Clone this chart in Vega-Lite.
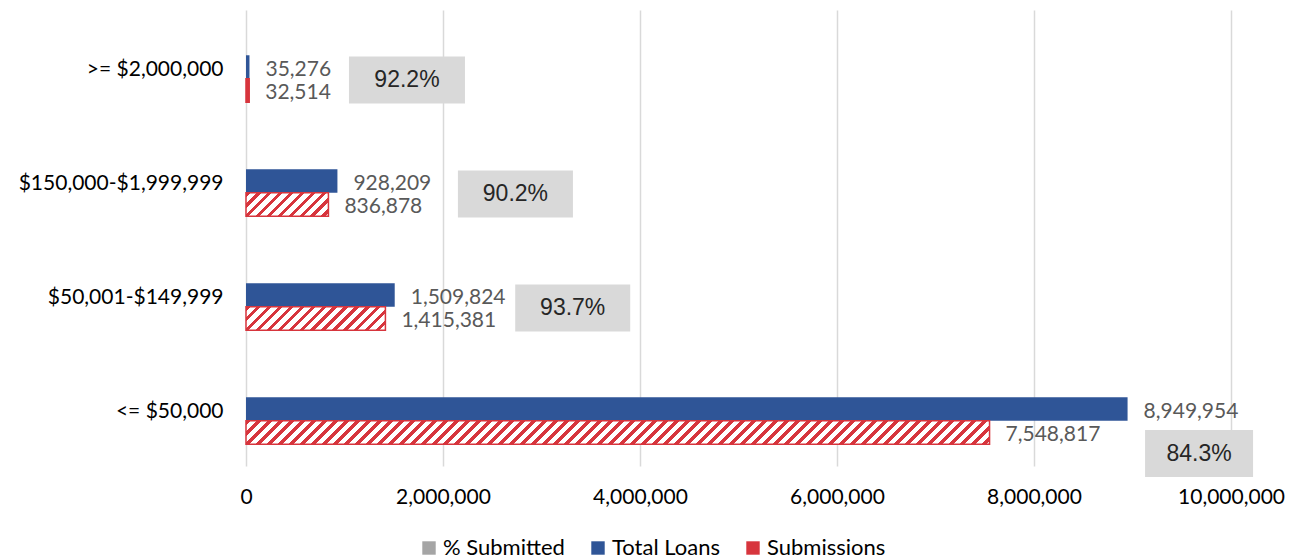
{
  "$schema": "https://vega.github.io/schema/vega-lite/v6.json",
  "width": 985,
  "height": 456,
  "autosize": {"type": "none"},
  "padding": {"left": 246, "top": 10, "right": 58, "bottom": 94},
  "background": "white",
  "config": {
    "view": {"stroke": null},
    "font": "Lato",
    "axisX": {"domain": false, "ticks": false, "labelFont": "Lato", "labelFontSize": 21, "labelColor": "#000000", "labelPadding": 20, "gridColor": "#d9d9d9", "gridWidth": 1.5, "labelFlush": false, "labelOverlap": false},
    "axisY": {"domain": false, "ticks": false, "grid": false, "labelFont": "Lato", "labelFontSize": 21, "labelColor": "#000000", "labelPadding": 23, "labelLimit": 400, "labelOffset": 2.5}
  },
  "data": {
    "values": [
      {"category": ">= $2,000,000", "Total Loans": 35276, "Submissions": 32514, "pct": 0.922},
      {"category": "$150,000-$1,999,999", "Total Loans": 928209, "Submissions": 836878, "pct": 0.902},
      {"category": "$50,001-$149,999", "Total Loans": 1509824, "Submissions": 1415381, "pct": 0.937},
      {"category": "<= $50,000", "Total Loans": 8949954, "Submissions": 7548817, "pct": 0.843}
    ]
  },
  "layer": [
    {
      "transform": [{"fold": ["Total Loans", "Submissions"], "as": ["series", "value"]}],
      "mark": {"type": "bar", "strokeWidth": 1.5},
      "encoding": {
        "y": {"field": "category", "type": "nominal", "title": null, "sort": [">= $2,000,000", "$150,000-$1,999,999", "$50,001-$149,999", "<= $50,000"], "scale": {"paddingInner": 0.382, "paddingOuter": 0.191}},
        "yOffset": {"field": "series", "type": "nominal", "scale": {"domain": ["% Submitted", "Total Loans", "Submissions"], "paddingInner": 0, "paddingOuter": 0}},
        "x": {"field": "value", "type": "quantitative", "title": null, "scale": {"domain": [0, 10000000], "nice": false}, "axis": {"values": [0, 2000000, 4000000, 6000000, 8000000, 10000000], "format": ",d"}},
        "fill": {
          "field": "series", "type": "nominal",
          "scale": {"domain": ["% Submitted", "Total Loans", "Submissions"], "range": ["#a5a5a5", "#2f5597", "#d7353d"]},
          "legend": {
            "orient": "none", "legendX": 172, "legendY": 527, "direction": "horizontal", "title": null,
            "symbolType": "square", "symbolSize": 180, "labelFont": "Lato", "labelFontSize": 22, "labelColor": "#000000",
            "columnPadding": 22, "labelOffset": 3,
            "encode": {"symbols": {
              "fill": {
                "condition": {"test": "datum.label === 'Submissions'", "value": {"gradient": "linear", "x1": 0, "y1": 0, "x2": 1, "y2": 1, "stops": [
                  {"offset": 0, "color": "#d7353d"}, {"offset": 0.3, "color": "#d7353d"}, {"offset": 0.3, "color": "#ffffff"}, {"offset": 0.62, "color": "#ffffff"},
                  {"offset": 0.62, "color": "#d7353d"}, {"offset": 1, "color": "#d7353d"}]}},
                "value": {"expr": "scale('fill', datum.value)"}
              },
              "stroke": {"condition": {"test": "datum.label === 'Submissions'", "value": "#d7353d"}, "value": "transparent"},
              "strokeWidth": {"value": 1.5}
            }}
          },
          "condition": [
            {"test": "datum.series === 'Submissions' && datum.category === '<= $50,000'", "value": {"gradient": "linear", "x1": 0, "y1": 0, "x2": 1.03453, "y2": 0.032668, "stops": [
{"offset":0,"color":"#d7353d"},{"offset":0.0057,"color":"#d7353d"},{"offset":0.0057,"color":"#fff"},{"offset":0.0143,"color":"#fff"},
{"offset":0.0143,"color":"#d7353d"},{"offset":0.02,"color":"#d7353d"},{"offset":0.02,"color":"#fff"},{"offset":0.0286,"color":"#fff"},
{"offset":0.0286,"color":"#d7353d"},{"offset":0.0343,"color":"#d7353d"},{"offset":0.0343,"color":"#fff"},{"offset":0.0429,"color":"#fff"},
{"offset":0.0429,"color":"#d7353d"},{"offset":0.0486,"color":"#d7353d"},{"offset":0.0486,"color":"#fff"},{"offset":0.0571,"color":"#fff"},
{"offset":0.0571,"color":"#d7353d"},{"offset":0.0629,"color":"#d7353d"},{"offset":0.0629,"color":"#fff"},{"offset":0.0714,"color":"#fff"},
{"offset":0.0714,"color":"#d7353d"},{"offset":0.0771,"color":"#d7353d"},{"offset":0.0771,"color":"#fff"},{"offset":0.0857,"color":"#fff"},
{"offset":0.0857,"color":"#d7353d"},{"offset":0.0914,"color":"#d7353d"},{"offset":0.0914,"color":"#fff"},{"offset":0.1,"color":"#fff"},
{"offset":0.1,"color":"#d7353d"},{"offset":0.1057,"color":"#d7353d"},{"offset":0.1057,"color":"#fff"},{"offset":0.1143,"color":"#fff"},
{"offset":0.1143,"color":"#d7353d"},{"offset":0.12,"color":"#d7353d"},{"offset":0.12,"color":"#fff"},{"offset":0.1286,"color":"#fff"},
{"offset":0.1286,"color":"#d7353d"},{"offset":0.1343,"color":"#d7353d"},{"offset":0.1343,"color":"#fff"},{"offset":0.1429,"color":"#fff"},
{"offset":0.1429,"color":"#d7353d"},{"offset":0.1486,"color":"#d7353d"},{"offset":0.1486,"color":"#fff"},{"offset":0.1571,"color":"#fff"},
{"offset":0.1571,"color":"#d7353d"},{"offset":0.1629,"color":"#d7353d"},{"offset":0.1629,"color":"#fff"},{"offset":0.1714,"color":"#fff"},
{"offset":0.1714,"color":"#d7353d"},{"offset":0.1771,"color":"#d7353d"},{"offset":0.1771,"color":"#fff"},{"offset":0.1857,"color":"#fff"},
{"offset":0.1857,"color":"#d7353d"},{"offset":0.1914,"color":"#d7353d"},{"offset":0.1914,"color":"#fff"},{"offset":0.2,"color":"#fff"},
{"offset":0.2,"color":"#d7353d"},{"offset":0.2057,"color":"#d7353d"},{"offset":0.2057,"color":"#fff"},{"offset":0.2143,"color":"#fff"},
{"offset":0.2143,"color":"#d7353d"},{"offset":0.22,"color":"#d7353d"},{"offset":0.22,"color":"#fff"},{"offset":0.2286,"color":"#fff"},
{"offset":0.2286,"color":"#d7353d"},{"offset":0.2343,"color":"#d7353d"},{"offset":0.2343,"color":"#fff"},{"offset":0.2429,"color":"#fff"},
{"offset":0.2429,"color":"#d7353d"},{"offset":0.2486,"color":"#d7353d"},{"offset":0.2486,"color":"#fff"},{"offset":0.2571,"color":"#fff"},
{"offset":0.2571,"color":"#d7353d"},{"offset":0.2629,"color":"#d7353d"},{"offset":0.2629,"color":"#fff"},{"offset":0.2714,"color":"#fff"},
{"offset":0.2714,"color":"#d7353d"},{"offset":0.2771,"color":"#d7353d"},{"offset":0.2771,"color":"#fff"},{"offset":0.2857,"color":"#fff"},
{"offset":0.2857,"color":"#d7353d"},{"offset":0.2914,"color":"#d7353d"},{"offset":0.2914,"color":"#fff"},{"offset":0.3,"color":"#fff"},
{"offset":0.3,"color":"#d7353d"},{"offset":0.3057,"color":"#d7353d"},{"offset":0.3057,"color":"#fff"},{"offset":0.3143,"color":"#fff"},
{"offset":0.3143,"color":"#d7353d"},{"offset":0.32,"color":"#d7353d"},{"offset":0.32,"color":"#fff"},{"offset":0.3286,"color":"#fff"},
{"offset":0.3286,"color":"#d7353d"},{"offset":0.3343,"color":"#d7353d"},{"offset":0.3343,"color":"#fff"},{"offset":0.3429,"color":"#fff"},
{"offset":0.3429,"color":"#d7353d"},{"offset":0.3486,"color":"#d7353d"},{"offset":0.3486,"color":"#fff"},{"offset":0.3571,"color":"#fff"},
{"offset":0.3571,"color":"#d7353d"},{"offset":0.3629,"color":"#d7353d"},{"offset":0.3629,"color":"#fff"},{"offset":0.3714,"color":"#fff"},
{"offset":0.3714,"color":"#d7353d"},{"offset":0.3771,"color":"#d7353d"},{"offset":0.3771,"color":"#fff"},{"offset":0.3857,"color":"#fff"},
{"offset":0.3857,"color":"#d7353d"},{"offset":0.3914,"color":"#d7353d"},{"offset":0.3914,"color":"#fff"},{"offset":0.4,"color":"#fff"},
{"offset":0.4,"color":"#d7353d"},{"offset":0.4057,"color":"#d7353d"},{"offset":0.4057,"color":"#fff"},{"offset":0.4143,"color":"#fff"},
{"offset":0.4143,"color":"#d7353d"},{"offset":0.42,"color":"#d7353d"},{"offset":0.42,"color":"#fff"},{"offset":0.4286,"color":"#fff"},
{"offset":0.4286,"color":"#d7353d"},{"offset":0.4343,"color":"#d7353d"},{"offset":0.4343,"color":"#fff"},{"offset":0.4429,"color":"#fff"},
{"offset":0.4429,"color":"#d7353d"},{"offset":0.4486,"color":"#d7353d"},{"offset":0.4486,"color":"#fff"},{"offset":0.4571,"color":"#fff"},
{"offset":0.4571,"color":"#d7353d"},{"offset":0.4629,"color":"#d7353d"},{"offset":0.4629,"color":"#fff"},{"offset":0.4714,"color":"#fff"},
{"offset":0.4714,"color":"#d7353d"},{"offset":0.4771,"color":"#d7353d"},{"offset":0.4771,"color":"#fff"},{"offset":0.4857,"color":"#fff"},
{"offset":0.4857,"color":"#d7353d"},{"offset":0.4914,"color":"#d7353d"},{"offset":0.4914,"color":"#fff"},{"offset":0.5,"color":"#fff"},
{"offset":0.5,"color":"#d7353d"},{"offset":0.5057,"color":"#d7353d"},{"offset":0.5057,"color":"#fff"},{"offset":0.5143,"color":"#fff"},
{"offset":0.5143,"color":"#d7353d"},{"offset":0.52,"color":"#d7353d"},{"offset":0.52,"color":"#fff"},{"offset":0.5286,"color":"#fff"},
{"offset":0.5286,"color":"#d7353d"},{"offset":0.5343,"color":"#d7353d"},{"offset":0.5343,"color":"#fff"},{"offset":0.5429,"color":"#fff"},
{"offset":0.5429,"color":"#d7353d"},{"offset":0.5486,"color":"#d7353d"},{"offset":0.5486,"color":"#fff"},{"offset":0.5571,"color":"#fff"},
{"offset":0.5571,"color":"#d7353d"},{"offset":0.5629,"color":"#d7353d"},{"offset":0.5629,"color":"#fff"},{"offset":0.5714,"color":"#fff"},
{"offset":0.5714,"color":"#d7353d"},{"offset":0.5771,"color":"#d7353d"},{"offset":0.5771,"color":"#fff"},{"offset":0.5857,"color":"#fff"},
{"offset":0.5857,"color":"#d7353d"},{"offset":0.5914,"color":"#d7353d"},{"offset":0.5914,"color":"#fff"},{"offset":0.6,"color":"#fff"},
{"offset":0.6,"color":"#d7353d"},{"offset":0.6057,"color":"#d7353d"},{"offset":0.6057,"color":"#fff"},{"offset":0.6143,"color":"#fff"},
{"offset":0.6143,"color":"#d7353d"},{"offset":0.62,"color":"#d7353d"},{"offset":0.62,"color":"#fff"},{"offset":0.6286,"color":"#fff"},
{"offset":0.6286,"color":"#d7353d"},{"offset":0.6343,"color":"#d7353d"},{"offset":0.6343,"color":"#fff"},{"offset":0.6429,"color":"#fff"},
{"offset":0.6429,"color":"#d7353d"},{"offset":0.6486,"color":"#d7353d"},{"offset":0.6486,"color":"#fff"},{"offset":0.6571,"color":"#fff"},
{"offset":0.6571,"color":"#d7353d"},{"offset":0.6629,"color":"#d7353d"},{"offset":0.6629,"color":"#fff"},{"offset":0.6714,"color":"#fff"},
{"offset":0.6714,"color":"#d7353d"},{"offset":0.6771,"color":"#d7353d"},{"offset":0.6771,"color":"#fff"},{"offset":0.6857,"color":"#fff"},
{"offset":0.6857,"color":"#d7353d"},{"offset":0.6914,"color":"#d7353d"},{"offset":0.6914,"color":"#fff"},{"offset":0.7,"color":"#fff"},
{"offset":0.7,"color":"#d7353d"},{"offset":0.7057,"color":"#d7353d"},{"offset":0.7057,"color":"#fff"},{"offset":0.7143,"color":"#fff"},
{"offset":0.7143,"color":"#d7353d"},{"offset":0.72,"color":"#d7353d"},{"offset":0.72,"color":"#fff"},{"offset":0.7286,"color":"#fff"},
{"offset":0.7286,"color":"#d7353d"},{"offset":0.7343,"color":"#d7353d"},{"offset":0.7343,"color":"#fff"},{"offset":0.7429,"color":"#fff"},
{"offset":0.7429,"color":"#d7353d"},{"offset":0.7486,"color":"#d7353d"},{"offset":0.7486,"color":"#fff"},{"offset":0.7571,"color":"#fff"},
{"offset":0.7571,"color":"#d7353d"},{"offset":0.7629,"color":"#d7353d"},{"offset":0.7629,"color":"#fff"},{"offset":0.7714,"color":"#fff"},
{"offset":0.7714,"color":"#d7353d"},{"offset":0.7771,"color":"#d7353d"},{"offset":0.7771,"color":"#fff"},{"offset":0.7857,"color":"#fff"},
{"offset":0.7857,"color":"#d7353d"},{"offset":0.7914,"color":"#d7353d"},{"offset":0.7914,"color":"#fff"},{"offset":0.8,"color":"#fff"},
{"offset":0.8,"color":"#d7353d"},{"offset":0.8057,"color":"#d7353d"},{"offset":0.8057,"color":"#fff"},{"offset":0.8143,"color":"#fff"},
{"offset":0.8143,"color":"#d7353d"},{"offset":0.82,"color":"#d7353d"},{"offset":0.82,"color":"#fff"},{"offset":0.8286,"color":"#fff"},
{"offset":0.8286,"color":"#d7353d"},{"offset":0.8343,"color":"#d7353d"},{"offset":0.8343,"color":"#fff"},{"offset":0.8429,"color":"#fff"},
{"offset":0.8429,"color":"#d7353d"},{"offset":0.8486,"color":"#d7353d"},{"offset":0.8486,"color":"#fff"},{"offset":0.8571,"color":"#fff"},
{"offset":0.8571,"color":"#d7353d"},{"offset":0.8629,"color":"#d7353d"},{"offset":0.8629,"color":"#fff"},{"offset":0.8714,"color":"#fff"},
{"offset":0.8714,"color":"#d7353d"},{"offset":0.8771,"color":"#d7353d"},{"offset":0.8771,"color":"#fff"},{"offset":0.8857,"color":"#fff"},
{"offset":0.8857,"color":"#d7353d"},{"offset":0.8914,"color":"#d7353d"},{"offset":0.8914,"color":"#fff"},{"offset":0.9,"color":"#fff"},
{"offset":0.9,"color":"#d7353d"},{"offset":0.9057,"color":"#d7353d"},{"offset":0.9057,"color":"#fff"},{"offset":0.9143,"color":"#fff"},
{"offset":0.9143,"color":"#d7353d"},{"offset":0.92,"color":"#d7353d"},{"offset":0.92,"color":"#fff"},{"offset":0.9286,"color":"#fff"},
{"offset":0.9286,"color":"#d7353d"},{"offset":0.9343,"color":"#d7353d"},{"offset":0.9343,"color":"#fff"},{"offset":0.9429,"color":"#fff"},
{"offset":0.9429,"color":"#d7353d"},{"offset":0.9486,"color":"#d7353d"},{"offset":0.9486,"color":"#fff"},{"offset":0.9571,"color":"#fff"},
{"offset":0.9571,"color":"#d7353d"},{"offset":0.9629,"color":"#d7353d"},{"offset":0.9629,"color":"#fff"},{"offset":0.9714,"color":"#fff"},
{"offset":0.9714,"color":"#d7353d"},{"offset":0.9771,"color":"#d7353d"},{"offset":0.9771,"color":"#fff"},{"offset":0.9857,"color":"#fff"},
{"offset":0.9857,"color":"#d7353d"},{"offset":0.9914,"color":"#d7353d"},{"offset":0.9914,"color":"#fff"},{"offset":1,"color":"#fff"}
            ]}},
            {"test": "datum.series === 'Submissions' && datum.category === '$50,001-$149,999'", "value": {"gradient": "linear", "x1": 0, "y1": 0, "x2": 1.14045, "y2": 0.19208, "stops": [
{"offset":0,"color":"#d7353d"},{"offset":0.0267,"color":"#d7353d"},{"offset":0.0267,"color":"#fff"},{"offset":0.0667,"color":"#fff"},
{"offset":0.0667,"color":"#d7353d"},{"offset":0.0933,"color":"#d7353d"},{"offset":0.0933,"color":"#fff"},{"offset":0.1333,"color":"#fff"},
{"offset":0.1333,"color":"#d7353d"},{"offset":0.16,"color":"#d7353d"},{"offset":0.16,"color":"#fff"},{"offset":0.2,"color":"#fff"},
{"offset":0.2,"color":"#d7353d"},{"offset":0.2267,"color":"#d7353d"},{"offset":0.2267,"color":"#fff"},{"offset":0.2667,"color":"#fff"},
{"offset":0.2667,"color":"#d7353d"},{"offset":0.2933,"color":"#d7353d"},{"offset":0.2933,"color":"#fff"},{"offset":0.3333,"color":"#fff"},
{"offset":0.3333,"color":"#d7353d"},{"offset":0.36,"color":"#d7353d"},{"offset":0.36,"color":"#fff"},{"offset":0.4,"color":"#fff"},
{"offset":0.4,"color":"#d7353d"},{"offset":0.4267,"color":"#d7353d"},{"offset":0.4267,"color":"#fff"},{"offset":0.4667,"color":"#fff"},
{"offset":0.4667,"color":"#d7353d"},{"offset":0.4933,"color":"#d7353d"},{"offset":0.4933,"color":"#fff"},{"offset":0.5333,"color":"#fff"},
{"offset":0.5333,"color":"#d7353d"},{"offset":0.56,"color":"#d7353d"},{"offset":0.56,"color":"#fff"},{"offset":0.6,"color":"#fff"},
{"offset":0.6,"color":"#d7353d"},{"offset":0.6267,"color":"#d7353d"},{"offset":0.6267,"color":"#fff"},{"offset":0.6667,"color":"#fff"},
{"offset":0.6667,"color":"#d7353d"},{"offset":0.6933,"color":"#d7353d"},{"offset":0.6933,"color":"#fff"},{"offset":0.7333,"color":"#fff"},
{"offset":0.7333,"color":"#d7353d"},{"offset":0.76,"color":"#d7353d"},{"offset":0.76,"color":"#fff"},{"offset":0.8,"color":"#fff"},
{"offset":0.8,"color":"#d7353d"},{"offset":0.8267,"color":"#d7353d"},{"offset":0.8267,"color":"#fff"},{"offset":0.8667,"color":"#fff"},
{"offset":0.8667,"color":"#d7353d"},{"offset":0.8933,"color":"#d7353d"},{"offset":0.8933,"color":"#fff"},{"offset":0.9333,"color":"#fff"},
{"offset":0.9333,"color":"#d7353d"},{"offset":0.96,"color":"#d7353d"},{"offset":0.96,"color":"#fff"},{"offset":1,"color":"#fff"}
            ]}},
            {"test": "datum.series === 'Submissions' && datum.category === '$150,000-$1,999,999'", "value": {"gradient": "linear", "x1": 0, "y1": 0, "x2": 1.2231, "y2": 0.3484, "stops": [
{"offset":0,"color":"#d7353d"},{"offset":0.04,"color":"#d7353d"},{"offset":0.04,"color":"#fff"},{"offset":0.1,"color":"#fff"},
{"offset":0.1,"color":"#d7353d"},{"offset":0.14,"color":"#d7353d"},{"offset":0.14,"color":"#fff"},{"offset":0.2,"color":"#fff"},
{"offset":0.2,"color":"#d7353d"},{"offset":0.24,"color":"#d7353d"},{"offset":0.24,"color":"#fff"},{"offset":0.3,"color":"#fff"},
{"offset":0.3,"color":"#d7353d"},{"offset":0.34,"color":"#d7353d"},{"offset":0.34,"color":"#fff"},{"offset":0.4,"color":"#fff"},
{"offset":0.4,"color":"#d7353d"},{"offset":0.44,"color":"#d7353d"},{"offset":0.44,"color":"#fff"},{"offset":0.5,"color":"#fff"},
{"offset":0.5,"color":"#d7353d"},{"offset":0.54,"color":"#d7353d"},{"offset":0.54,"color":"#fff"},{"offset":0.6,"color":"#fff"},
{"offset":0.6,"color":"#d7353d"},{"offset":0.64,"color":"#d7353d"},{"offset":0.64,"color":"#fff"},{"offset":0.7,"color":"#fff"},
{"offset":0.7,"color":"#d7353d"},{"offset":0.74,"color":"#d7353d"},{"offset":0.74,"color":"#fff"},{"offset":0.8,"color":"#fff"},
{"offset":0.8,"color":"#d7353d"},{"offset":0.84,"color":"#d7353d"},{"offset":0.84,"color":"#fff"},{"offset":0.9,"color":"#fff"},
{"offset":0.9,"color":"#d7353d"},{"offset":0.94,"color":"#d7353d"},{"offset":0.94,"color":"#fff"},{"offset":1,"color":"#fff"}
            ]}}
          ]
        },
        "stroke": {"condition": {"test": "datum.series === 'Submissions'", "value": "#d7353d"}, "value": null}
      }
    },
    {
      "transform": [{"fold": ["Total Loans", "Submissions"], "as": ["series", "value"]}],
      "mark": {"type": "text", "align": "left", "baseline": "middle", "dx": 16, "dy": 2.5, "font": "Lato", "fontSize": 21, "color": "#595959"},
      "encoding": {
        "y": {"field": "category", "type": "nominal", "title": null, "sort": [">= $2,000,000", "$150,000-$1,999,999", "$50,001-$149,999", "<= $50,000"]},
        "yOffset": {"field": "series", "type": "nominal", "scale": {"domain": ["% Submitted", "Total Loans", "Submissions"], "paddingInner": 0, "paddingOuter": 0}},
        "x": {"field": "value", "type": "quantitative", "title": null, "axis": {"values": [0, 2000000, 4000000, 6000000, 8000000, 10000000], "format": ",d"}},
        "text": {"field": "value", "type": "quantitative", "format": ",d"}
      }
    },
    {
      "transform": [{"filter": "datum.category === '$150,000-$1,999,999' || datum.category === '$50,001-$149,999'"}],
      "mark": {"type": "bar", "size": 47, "yOffset": 13, "xOffset": 120.5, "x2Offset": 235.5, "color": "#d9d9d9"},
      "encoding": {
        "y": {"field": "category", "type": "nominal", "title": null, "sort": [">= $2,000,000", "$150,000-$1,999,999", "$50,001-$149,999", "<= $50,000"]},
        "x": {"field": "Total Loans", "type": "quantitative", "title": null, "axis": {"values": [0, 2000000, 4000000, 6000000, 8000000, 10000000], "format": ",d"}},
        "x2": {"field": "Total Loans"}
      }
    },
    {
      "transform": [{"filter": "datum.category === '>= $2,000,000'"}],
      "mark": {"type": "bar", "size": 47, "yOffset": 13, "xOffset": 99.5, "x2Offset": 215.5, "color": "#d9d9d9"},
      "encoding": {
        "y": {"field": "category", "type": "nominal", "title": null, "sort": [">= $2,000,000", "$150,000-$1,999,999", "$50,001-$149,999", "<= $50,000"]},
        "x": {"field": "Total Loans", "type": "quantitative", "title": null, "axis": {"values": [0, 2000000, 4000000, 6000000, 8000000, 10000000], "format": ",d"}},
        "x2": {"field": "Total Loans"}
      }
    },
    {
      "transform": [{"filter": "datum.category === '<= $50,000'"}],
      "mark": {"type": "bar", "size": 47, "yOffset": 44.5, "xOffset": 17.5, "x2Offset": 125.5, "color": "#d9d9d9"},
      "encoding": {
        "y": {"field": "category", "type": "nominal", "title": null, "sort": [">= $2,000,000", "$150,000-$1,999,999", "$50,001-$149,999", "<= $50,000"]},
        "x": {"field": "Total Loans", "type": "quantitative", "title": null, "axis": {"values": [0, 2000000, 4000000, 6000000, 8000000, 10000000], "format": ",d"}},
        "x2": {"field": "Total Loans"}
      }
    },
    {
      "transform": [{"filter": "datum.category === '$150,000-$1,999,999' || datum.category === '$50,001-$149,999'"}],
      "mark": {"type": "text", "align": "center", "baseline": "middle", "dx": 178, "dy": 13, "font": "Liberation Sans", "fontSize": 23, "color": "#262626"},
      "encoding": {
        "y": {"field": "category", "type": "nominal", "title": null, "sort": [">= $2,000,000", "$150,000-$1,999,999", "$50,001-$149,999", "<= $50,000"]},
        "x": {"field": "Total Loans", "type": "quantitative", "title": null, "axis": {"values": [0, 2000000, 4000000, 6000000, 8000000, 10000000], "format": ",d"}},
        "text": {"field": "pct", "type": "quantitative", "format": ".1%"}
      }
    },
    {
      "transform": [{"filter": "datum.category === '>= $2,000,000'"}],
      "mark": {"type": "text", "align": "center", "baseline": "middle", "dx": 157.5, "dy": 13, "font": "Liberation Sans", "fontSize": 23, "color": "#262626"},
      "encoding": {
        "y": {"field": "category", "type": "nominal", "title": null, "sort": [">= $2,000,000", "$150,000-$1,999,999", "$50,001-$149,999", "<= $50,000"]},
        "x": {"field": "Total Loans", "type": "quantitative", "title": null, "axis": {"values": [0, 2000000, 4000000, 6000000, 8000000, 10000000], "format": ",d"}},
        "text": {"field": "pct", "type": "quantitative", "format": ".1%"}
      }
    },
    {
      "transform": [{"filter": "datum.category === '<= $50,000'"}],
      "mark": {"type": "text", "align": "center", "baseline": "middle", "dx": 71.5, "dy": 44.5, "font": "Liberation Sans", "fontSize": 23, "color": "#262626"},
      "encoding": {
        "y": {"field": "category", "type": "nominal", "title": null, "sort": [">= $2,000,000", "$150,000-$1,999,999", "$50,001-$149,999", "<= $50,000"]},
        "x": {"field": "Total Loans", "type": "quantitative", "title": null, "axis": {"values": [0, 2000000, 4000000, 6000000, 8000000, 10000000], "format": ",d"}},
        "text": {"field": "pct", "type": "quantitative", "format": ".1%"}
      }
    }
  ]
}
